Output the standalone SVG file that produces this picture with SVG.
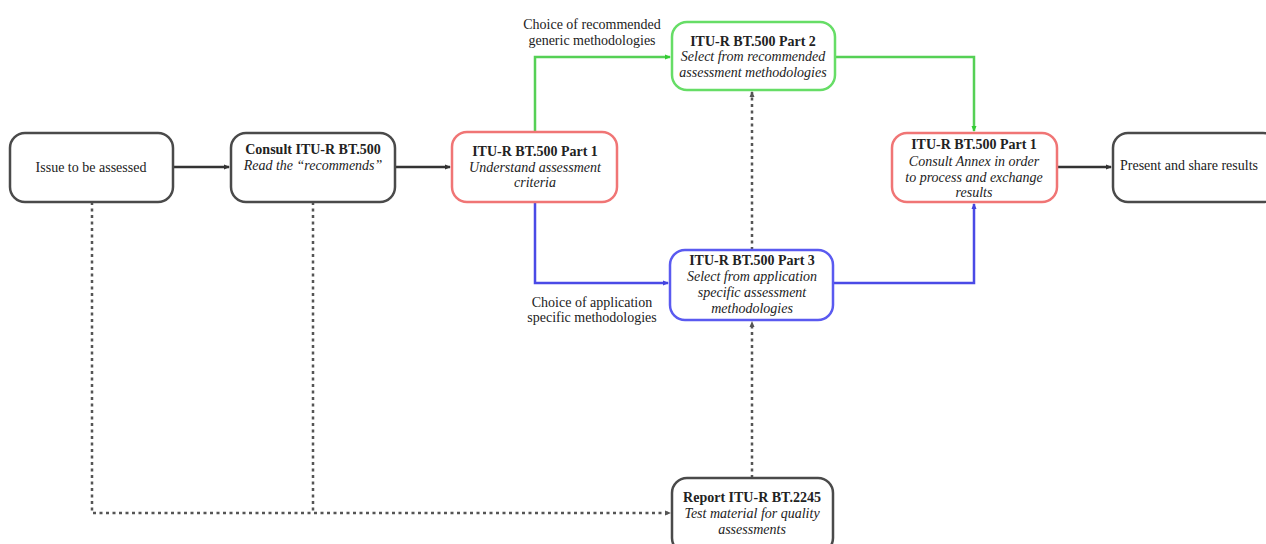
<svg xmlns="http://www.w3.org/2000/svg" width="1266" height="544" viewBox="0 0 1266 544">
<defs>
<marker id="ak" markerWidth="6" markerHeight="6" refX="5" refY="3" orient="auto" markerUnits="userSpaceOnUse"><path d="M0,0.5 L6,3 L0,5.5 Z" fill="#333"/></marker>
<marker id="ag" markerWidth="6" markerHeight="6" refX="5" refY="3" orient="auto" markerUnits="userSpaceOnUse"><path d="M0,0.5 L6,3 L0,5.5 Z" fill="#3c3"/></marker>
<marker id="ab" markerWidth="6" markerHeight="6" refX="5" refY="3" orient="auto" markerUnits="userSpaceOnUse"><path d="M0,0.5 L6,3 L0,5.5 Z" fill="#44d"/></marker>
<marker id="ad" markerWidth="6" markerHeight="6" refX="5" refY="3" orient="auto" markerUnits="userSpaceOnUse"><path d="M0,0.5 L6,3 L0,5.5 Z" fill="#555"/></marker>
</defs>
<style>
text{font-family:"Liberation Serif","Times New Roman",serif;font-size:14px;fill:#222;text-anchor:middle}
.b{font-weight:bold}
.i{font-style:italic}
.box{fill:#fff;stroke-width:2.5}
.k{stroke:#4a4a4a}
.r{stroke:#f07575}
.g{stroke:#66dd66}
.u{stroke:#5a5af0}
.c{fill:none;stroke-width:2.5}
.ck{stroke:#333}
.cg{stroke:#55d055}
.cb{stroke:#4a4ae6}
.cd{stroke:#555;stroke-dasharray:3 3.5}
</style>
<rect width="1266" height="544" fill="#fff"/>
<g id="connectors">
<path class="c ck" d="M173,167 H229" marker-end="url(#ak)"/>
<path class="c ck" d="M395,167 H450" marker-end="url(#ak)"/>
<path class="c ck" d="M1057,167 H1111" marker-end="url(#ak)"/>
<path class="c cg" d="M535,132 V57 H670" marker-end="url(#ag)"/>
<path class="c cg" d="M835,57 H974 V131" marker-end="url(#ag)"/>
<path class="c cb" d="M535,202 V283 H668" marker-end="url(#ab)"/>
<path class="c cb" d="M833,283 H974 V204" marker-end="url(#ab)"/>
<path class="c cd" d="M92,202 V513 H670" marker-end="url(#ad)"/>
<path class="c cd" d="M313,202 V513"/>
<path class="c cd" d="M752,478 V322" marker-end="url(#ad)"/>
<path class="c cd" d="M752,250 V92" marker-end="url(#ad)"/>
</g>
<g id="n-issue">
<rect class="box k" x="10" y="133" width="163" height="69" rx="15"/>
<text x="91" y="172">Issue to be assessed</text>
</g>
<g id="n-consult">
<rect class="box k" x="231" y="133" width="164" height="69" rx="15"/>
<text class="b" x="313" y="154">Consult ITU-R BT.500</text>
<text class="i" x="313" y="170">Read the “recommends”</text>
</g>
<g id="n-part1">
<rect class="box r" x="452" y="132" width="165" height="70" rx="15"/>
<text class="b" x="535" y="156">ITU-R BT.500 Part 1</text>
<text class="i" x="535" y="172">Understand assessment</text>
<text class="i" x="535" y="187">criteria</text>
</g>
<g id="n-part2">
<rect class="box g" x="672" y="22" width="163" height="68" rx="15"/>
<text class="b" x="753" y="46">ITU-R BT.500 Part 2</text>
<text class="i" x="753" y="61">Select from recommended</text>
<text class="i" x="753" y="77">assessment methodologies</text>
</g>
<g id="n-part3">
<rect class="box u" x="670" y="250" width="163" height="70" rx="15"/>
<text class="b" x="752" y="265">ITU-R BT.500 Part 3</text>
<text class="i" x="752" y="281">Select from application</text>
<text class="i" x="752" y="297">specific assessment</text>
<text class="i" x="752" y="313">methodologies</text>
</g>
<g id="n-annex">
<rect class="box r" x="892" y="133" width="165" height="69" rx="15"/>
<text class="b" x="974" y="149">ITU-R BT.500 Part 1</text>
<text class="i" x="974" y="166">Consult Annex in order</text>
<text class="i" x="974" y="182">to process and exchange</text>
<text class="i" x="974" y="197">results</text>
</g>
<g id="n-present">
<rect class="box k" x="1113" y="133" width="165" height="69" rx="15"/>
<text x="1189" y="170">Present and share results</text>
</g>
<g id="n-report">
<rect class="box k" x="672" y="478" width="161" height="75" rx="15"/>
<text class="b" x="752" y="502">Report ITU-R BT.2245</text>
<text class="i" x="752" y="518">Test material for quality</text>
<text class="i" x="752" y="534">assessments</text>
</g>
<g id="labels">
<text x="592" y="29">Choice of recommended</text>
<text x="592" y="45">generic methodologies</text>
<text x="592" y="307">Choice of application</text>
<text x="592" y="322">specific methodologies</text>
</g>
</svg>
